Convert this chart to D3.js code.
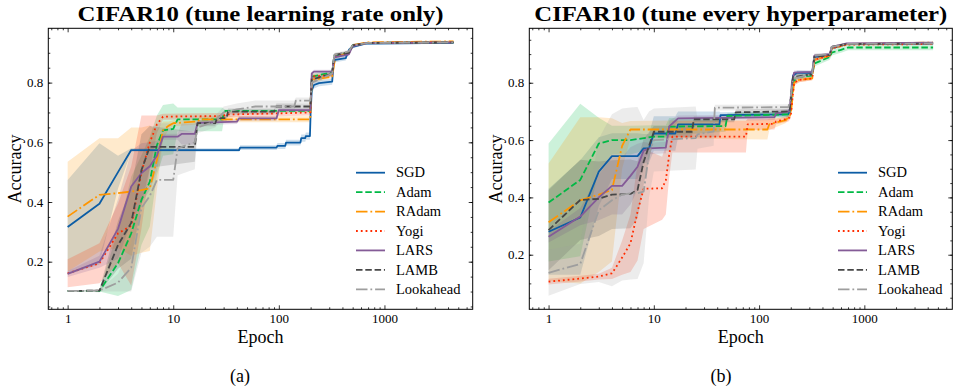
<!DOCTYPE html>
<html>
<head>
<meta charset="utf-8">
<script src="https://cdn.jsdelivr.net/npm/d3@7"></script>
<style>
  body { margin: 0; background: #fff; }
  svg { display: block; font-family: 'Liberation Serif', 'Times New Roman', serif; }
</style>
</head>
<body>
<div id="chart"></div>
<script>
// optimizer names, same order in both panels
const optimizers = ['SGD', 'Adam', 'RAdam', 'Yogi', 'LARS', 'LAMB', 'Lookahead'];
const epochTicks = [1, 10, 100, 1000];
const accTicks = [0.2, 0.4, 0.6, 0.8];

// panel (a): tune learning rate only -- [epoch, mean accuracy, std]
const sgdA = [[1, 0.316, 0.158], [2, 0.394, 0.203], [3, 0.50, 0.055], [4, 0.574, 0.006], [42, 0.574, 0.006], [43, 0.582, 0.008], [95, 0.582, 0.008], [97, 0.588, 0.01], [115, 0.588, 0.01], [117, 0.599, 0.01], [160, 0.599, 0.01], [163, 0.614, 0.012], [178, 0.614, 0.012], [180, 0.621, 0.012], [197, 0.621, 0.012], [200, 0.70, 0.02], [205, 0.775, 0.015], [215, 0.792, 0.012], [240, 0.798, 0.01], [320, 0.803, 0.01], [330, 0.865, 0.01], [340, 0.876, 0.008], [430, 0.882, 0.008], [462, 0.91, 0.006], [500, 0.92, 0.005], [660, 0.931, 0.004], [4500, 0.933, 0.003]];
const adamA = [[1, 0.102, 0], [2, 0.102, 0.002], [3, 0.195, 0.11], [4, 0.295, 0.19], [5, 0.407, 0.15], [6, 0.468, 0.15], [7, 0.59, 0.1], [8, 0.64, 0.085], [10, 0.645, 0.085], [11, 0.677, 0.04], [29, 0.677, 0.04], [31, 0.705, 0.005], [199, 0.705, 0.005], [205, 0.82, 0.01], [320, 0.835, 0.006], [335, 0.89, 0.006], [460, 0.90, 0.005], [500, 0.925, 0.004], [700, 0.933, 0.003], [4500, 0.935, 0.003]];
const radamA = [[1, 0.351, 0.184], [2, 0.424, 0.19], [3, 0.43, 0.184], [4, 0.435, 0.215], [5, 0.44, 0.21], [6, 0.446, 0.21], [7, 0.54, 0.1], [8, 0.64, 0.03], [9, 0.655, 0.015], [10, 0.664, 0.01], [17, 0.67, 0.01], [18, 0.677, 0.01], [199, 0.677, 0.01], [200, 0.74, 0.02], [205, 0.80, 0.01], [215, 0.81, 0.008], [320, 0.82, 0.006], [335, 0.865, 0.006], [345, 0.885, 0.005], [460, 0.90, 0.005], [500, 0.925, 0.004], [700, 0.935, 0.003], [4500, 0.938, 0.003]];
const yogiA = [[1, 0.161, 0.047], [2, 0.195, 0.067], [3, 0.295, 0.1], [4, 0.32, 0.2], [5, 0.50, 0.19], [6, 0.60, 0.09], [7, 0.66, 0.03], [8, 0.686, 0.01], [30, 0.688, 0.01], [31, 0.693, 0.01], [100, 0.697, 0.01], [199, 0.70, 0.01], [205, 0.82, 0.01], [320, 0.826, 0.006], [335, 0.89, 0.006], [460, 0.90, 0.005], [500, 0.925, 0.004], [700, 0.933, 0.003], [4500, 0.935, 0.003]];
const larsA = [[1, 0.159, 0.01], [2, 0.2, 0.02], [3, 0.31, 0.1], [4, 0.452, 0.12], [5, 0.497, 0.1], [6, 0.52, 0.08], [7, 0.555, 0.05], [8, 0.619, 0.01], [11, 0.619, 0.01], [12, 0.628, 0.035], [16, 0.628, 0.035], [17, 0.665, 0.008], [40, 0.669, 0.008], [42, 0.68, 0.008], [95, 0.68, 0.008], [100, 0.708, 0.006], [199, 0.708, 0.006], [205, 0.831, 0.006], [215, 0.837, 0.006], [320, 0.837, 0.006], [335, 0.885, 0.006], [460, 0.895, 0.005], [500, 0.922, 0.004], [700, 0.933, 0.003], [4500, 0.935, 0.003]];
const lambA = [[1, 0.102, 0], [2, 0.103, 0.005], [3, 0.256, 0.08], [4, 0.33, 0.12], [5, 0.507, 0.12], [6, 0.585, 0.07], [16, 0.585, 0.05], [17, 0.664, 0.01], [25, 0.664, 0.01], [26, 0.681, 0.01], [32, 0.681, 0.01], [33, 0.703, 0.01], [90, 0.703, 0.01], [95, 0.72, 0.01], [199, 0.72, 0.01], [205, 0.81, 0.01], [320, 0.83, 0.006], [335, 0.893, 0.006], [460, 0.90, 0.005], [500, 0.925, 0.004], [700, 0.933, 0.003], [4500, 0.935, 0.003]];
const lookA = [[1, 0.102, 0], [2, 0.103, 0.003], [3, 0.13, 0.03], [4, 0.18, 0.08], [5, 0.38, 0.15], [6, 0.42, 0.17], [7, 0.474, 0.19], [10, 0.474, 0.19], [11, 0.58, 0.09], [16, 0.60, 0.09], [17, 0.65, 0.02], [25, 0.67, 0.02], [30, 0.70, 0.02], [40, 0.71, 0.02], [60, 0.72, 0.02], [140, 0.72, 0.02], [145, 0.74, 0.01], [199, 0.74, 0.01], [205, 0.80, 0.01], [320, 0.83, 0.006], [335, 0.893, 0.006], [460, 0.905, 0.005], [500, 0.925, 0.004], [700, 0.933, 0.003], [4500, 0.935, 0.003]];

// panel (b): tune every hyperparameter
const sgdB = [[1, 0.28, 0.15], [2, 0.33, 0.2], [3, 0.49, 0.12], [4, 0.544, 0.08], [7, 0.544, 0.08], [8, 0.571, 0.05], [9, 0.571, 0.05], [10, 0.623, 0.06], [16, 0.623, 0.06], [17, 0.655, 0.045], [42, 0.655, 0.045], [43, 0.687, 0.01], [190, 0.69, 0.01], [200, 0.72, 0.01], [210, 0.825, 0.01], [230, 0.835, 0.008], [320, 0.835, 0.006], [335, 0.89, 0.006], [470, 0.895, 0.005], [490, 0.92, 0.004], [680, 0.935, 0.003], [4500, 0.937, 0.003]];
const adamB = [[1, 0.382, 0.206], [2, 0.461, 0.266], [3, 0.588, 0.09], [4, 0.60, 0.05], [6, 0.60, 0.05], [10, 0.612, 0.04], [13, 0.612, 0.04], [14, 0.647, 0.03], [48, 0.649, 0.02], [50, 0.684, 0.01], [195, 0.69, 0.01], [210, 0.80, 0.01], [230, 0.82, 0.008], [320, 0.825, 0.008], [335, 0.867, 0.01], [470, 0.89, 0.01], [490, 0.905, 0.01], [600, 0.915, 0.01], [700, 0.923, 0.01], [4500, 0.923, 0.01]];
const radamB = [[1, 0.313, 0.205], [2, 0.39, 0.29], [3, 0.41, 0.27], [4, 0.426, 0.25], [5, 0.58, 0.08], [6, 0.637, 0.03], [120, 0.637, 0.035], [125, 0.655, 0.02], [180, 0.67, 0.01], [200, 0.69, 0.01], [215, 0.80, 0.01], [240, 0.81, 0.008], [320, 0.815, 0.006], [335, 0.88, 0.006], [470, 0.895, 0.005], [490, 0.92, 0.004], [680, 0.935, 0.003], [4500, 0.94, 0.003]];
const yogiB = [[1, 0.106, 0.01], [2, 0.117, 0.01], [3, 0.124, 0.01], [4, 0.135, 0.02], [5, 0.19, 0.06], [6, 0.24, 0.1], [7, 0.35, 0.17], [8, 0.43, 0.14], [12, 0.432, 0.11], [13, 0.46, 0.12], [14, 0.55, 0.08], [15, 0.612, 0.055], [75, 0.612, 0.055], [78, 0.655, 0.02], [140, 0.657, 0.02], [145, 0.665, 0.01], [190, 0.675, 0.01], [200, 0.685, 0.01], [215, 0.80, 0.01], [240, 0.81, 0.008], [320, 0.815, 0.006], [335, 0.88, 0.006], [470, 0.895, 0.005], [490, 0.92, 0.004], [680, 0.933, 0.003], [4500, 0.935, 0.003]];
const larsB = [[1, 0.263, 0.02], [2, 0.333, 0.03], [3, 0.40, 0.08], [4, 0.44, 0.1], [5, 0.44, 0.1], [6, 0.475, 0.1], [7, 0.507, 0.08], [8, 0.563, 0.03], [9, 0.571, 0.02], [13, 0.574, 0.02], [14, 0.648, 0.02], [17, 0.676, 0.01], [140, 0.68, 0.01], [145, 0.693, 0.01], [195, 0.70, 0.01], [205, 0.80, 0.01], [215, 0.835, 0.008], [320, 0.838, 0.006], [335, 0.895, 0.006], [470, 0.90, 0.005], [490, 0.925, 0.004], [680, 0.937, 0.003], [4500, 0.94, 0.003]];
const lambB = [[1, 0.286, 0.14], [2, 0.391, 0.14], [3, 0.395, 0.13], [4, 0.41, 0.12], [6, 0.412, 0.12], [7, 0.426, 0.1], [8, 0.524, 0.08], [10, 0.629, 0.02], [23, 0.629, 0.02], [24, 0.672, 0.01], [58, 0.672, 0.01], [60, 0.697, 0.01], [195, 0.70, 0.01], [210, 0.82, 0.01], [320, 0.83, 0.006], [335, 0.89, 0.006], [470, 0.897, 0.005], [490, 0.925, 0.004], [680, 0.935, 0.003], [4500, 0.937, 0.003]];
const lookB = [[1, 0.137, 0.08], [2, 0.168, 0.07], [3, 0.355, 0.25], [4, 0.39, 0.3], [5, 0.41, 0.3], [6, 0.414, 0.3], [7, 0.415, 0.3], [8, 0.42, 0.25], [9, 0.55, 0.15], [10, 0.60, 0.11], [25, 0.607, 0.11], [26, 0.62, 0.05], [37, 0.63, 0.05], [38, 0.713, 0.01], [190, 0.715, 0.01], [200, 0.75, 0.01], [210, 0.815, 0.01], [320, 0.83, 0.006], [335, 0.895, 0.006], [470, 0.90, 0.005], [490, 0.925, 0.004], [680, 0.936, 0.003], [4500, 0.937, 0.003]];

const colors = ['#0C5DA5', '#00B945', '#FF9500', '#FF2C00', '#845B97', '#474747', '#9e9e9e'];
const dashes = [null, '6.5 2.8', '11.5 2.9 1.8 2.9', '1.8 3', null, '6.5 2.8', '11.5 2.9 1.8 2.9'];

const width = 954;
const height = 391;
const lineWidth = 1.8;
const serif = "'Liberation Serif', 'Times New Roman', serif";

const svg = d3.select('#chart').append('svg')
  .attr('width', width)
  .attr('height', height);

function drawPanel(cfg) {
  const x = d3.scaleLog([0.656, 6850], [cfg.left, cfg.right]);
  const y = d3.scaleLinear(cfg.yDomain, [cfg.bottom, cfg.top]);
  const g = svg.append('g');

  g.append('clipPath').attr('id', 'clip-' + cfg.id)
    .append('rect')
    .attr('x', cfg.left).attr('y', cfg.top)
    .attr('width', cfg.right - cfg.left).attr('height', cfg.bottom - cfg.top);

  const plot = g.append('g').attr('clip-path', `url(#clip-${cfg.id})`);

  const area = d3.area()
    .x((d) => x(d[0]))
    .y0((d) => y(d[1] - d[2]))
    .y1((d) => y(d[1] + d[2]));
  const line = d3.line()
    .x((d) => x(d[0]))
    .y((d) => y(d[1]));

  plot.selectAll('path.band')
    .data(cfg.series)
    .join('path')
    .attr('class', 'band')
    .attr('fill', (d, i) => colors[i])
    .attr('fill-opacity', 0.2)
    .attr('d', area);

  plot.selectAll('path.line')
    .data(cfg.series)
    .join('path')
    .attr('class', 'line')
    .attr('fill', 'none')
    .attr('stroke', (d, i) => colors[i])
    .attr('stroke-width', lineWidth)
    .attr('stroke-dasharray', (d, i) => dashes[i])
    .attr('stroke-linejoin', 'round')
    .attr('d', line);

  // ticks: all four sides, pointing inwards
  const minorX = x.ticks().filter((t) => !epochTicks.includes(t));
  const minorY = d3.range(0.05, 1.0, 0.05).filter((t) => t > cfg.yDomain[0] && t < cfg.yDomain[1]);

  const axes = g.append('g');
  axes.append('g').attr('transform', `translate(0,${cfg.bottom})`)
    .call(d3.axisBottom(x).tickValues(epochTicks).tickFormat(d3.format('d')).tickSizeInner(-4).tickSizeOuter(0).tickPadding(4.5));
  axes.append('g').attr('transform', `translate(0,${cfg.bottom})`)
    .call(d3.axisBottom(x).tickValues(minorX).tickFormat('').tickSizeInner(-2).tickSizeOuter(0));
  axes.append('g').attr('transform', `translate(0,${cfg.top})`)
    .call(d3.axisTop(x).tickValues(epochTicks).tickFormat('').tickSizeInner(-4).tickSizeOuter(0));
  axes.append('g').attr('transform', `translate(0,${cfg.top})`)
    .call(d3.axisTop(x).tickValues(minorX).tickFormat('').tickSizeInner(-2).tickSizeOuter(0));
  axes.append('g').attr('transform', `translate(${cfg.left},0)`)
    .call(d3.axisLeft(y).tickValues(accTicks).tickFormat(d3.format('.1f')).tickSizeInner(-4).tickSizeOuter(0).tickPadding(5));
  axes.append('g').attr('transform', `translate(${cfg.left},0)`)
    .call(d3.axisLeft(y).tickValues(minorY).tickFormat('').tickSizeInner(-2).tickSizeOuter(0));
  axes.append('g').attr('transform', `translate(${cfg.right},0)`)
    .call(d3.axisRight(y).tickValues(accTicks).tickFormat('').tickSizeInner(-4).tickSizeOuter(0));
  axes.append('g').attr('transform', `translate(${cfg.right},0)`)
    .call(d3.axisRight(y).tickValues(minorY).tickFormat('').tickSizeInner(-2).tickSizeOuter(0));
  axes.selectAll('.domain').remove();
  axes.selectAll('g').attr('font-family', serif).attr('font-size', 13);
  axes.selectAll('text').attr('fill', '#000');
  axes.selectAll('line').attr('stroke', '#000').attr('stroke-width', 0.8);

  g.append('rect')
    .attr('x', cfg.left).attr('y', cfg.top)
    .attr('width', cfg.right - cfg.left).attr('height', cfg.bottom - cfg.top)
    .attr('fill', 'none').attr('stroke', '#000').attr('stroke-width', 1);

  const cx = (cfg.left + cfg.right) / 2;
  g.append('text')
    .attr('x', cx).attr('y', 21)
    .attr('text-anchor', 'middle')
    .attr('font-size', 20).attr('font-weight', 'bold')
    .attr('textLength', cfg.titleWidth).attr('lengthAdjust', 'spacingAndGlyphs')
    .text(cfg.title);

  g.append('text')
    .attr('x', cx).attr('y', 343)
    .attr('text-anchor', 'middle')
    .attr('font-size', 18)
    .text('Epoch');

  g.append('text')
    .attr('transform', `translate(${cfg.left - 27},169) rotate(-90)`)
    .attr('text-anchor', 'middle')
    .attr('font-size', 18)
    .text('Accuracy');

  g.append('text')
    .attr('x', cfg.captionX).attr('y', 382)
    .attr('text-anchor', 'middle')
    .attr('font-size', 18)
    .text(cfg.caption);

  // legend
  const legend = g.append('g')
    .attr('transform', `translate(${cfg.legendX},172.7)`)
    .selectAll('g')
    .data(optimizers)
    .join('g')
    .attr('transform', (d, i) => `translate(0,${i * 19.43})`);

  legend.append('line')
    .attr('x1', 0).attr('x2', 29)
    .attr('stroke', (d, i) => colors[i])
    .attr('stroke-width', lineWidth)
    .attr('stroke-dasharray', (d, i) => dashes[i]);

  legend.append('text')
    .attr('x', 40).attr('y', 0)
    .attr('dy', '0.33em')
    .attr('font-size', 14.5)
    .text((d) => d);
}

drawPanel({
  id: 'a',
  left: 48.3, right: 472.7, top: 28.3, bottom: 309.3,
  yDomain: [0.0405, 0.982],
  title: 'CIFAR10 (tune learning rate only)',
  titleWidth: 366,
  caption: '(a)', captionX: 240,
  legendX: 356,
  series: [sgdA, adamA, radamA, yogiA, larsA, lambA, lookA],
});

drawPanel({
  id: 'b',
  left: 529.3, right: 952.3, top: 28.3, bottom: 309.3,
  yDomain: [0.0096, 0.990],
  title: 'CIFAR10 (tune every hyperparameter)',
  titleWidth: 413,
  caption: '(b)', captionX: 721,
  legendX: 838,
  series: [sgdB, adamB, radamB, yogiB, larsB, lambB, lookB],
});
</script>
</body>
</html>
